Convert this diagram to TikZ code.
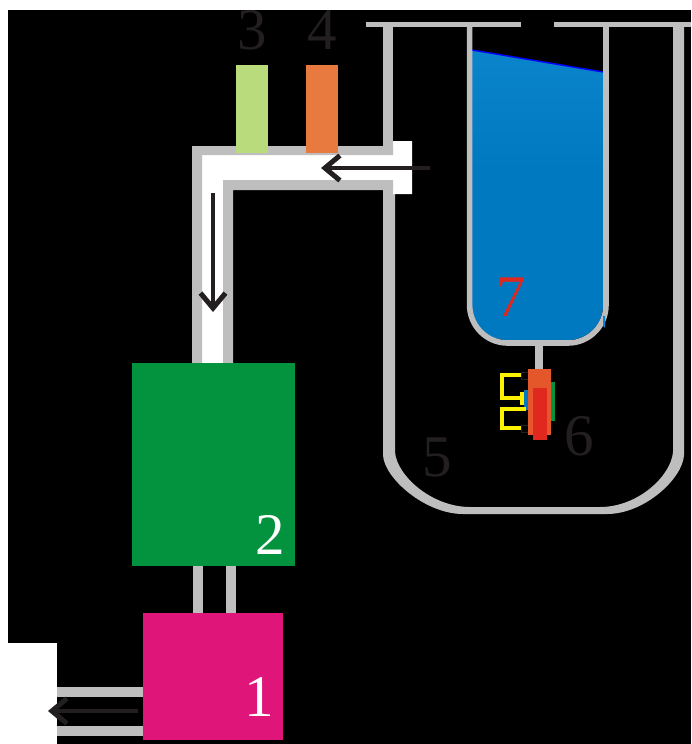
\documentclass[tikz,border=0pt]{standalone}
\usepackage{fontspec}
\setmainfont{Liberation Serif}
\usetikzlibrary{arrows.meta}
\definecolor{wall}{HTML}{BEBEBE}
\definecolor{ink}{HTML}{231F20}
\definecolor{pgreen}{HTML}{03933F}
\definecolor{ppink}{HTML}{E0157A}
\definecolor{plime}{HTML}{B9DB7B}
\definecolor{porange}{HTML}{E87A40}
\definecolor{pred}{HTML}{E4572A}
\definecolor{pdeep}{HTML}{E0281E}
\definecolor{wtop}{HTML}{0A84CA}
\definecolor{wbot}{HTML}{0079C1}
\definecolor{pyellow}{HTML}{FFF200}
\tikzset{
  box/.style={draw=none,inner sep=0pt,outer sep=0pt},
  digit/.style={inner sep=0pt,font=\fontsize{59}{59}\selectfont},
  tube/.style={draw=wall,line join=round},
  flow/.style={draw=ink,line width=4.4pt,-{Straight Barb[length=15pt,width=25pt,line width=5pt]}},
  bracket/.style={draw=pyellow,line width=3.5pt,line join=miter}
}
\begin{document}
\begin{tikzpicture}[x=1pt,y=-1pt]
\useasboundingbox (0,0) rectangle (691,744);
\fill[black] (0,0) rectangle (691,744);
\fill[white] (0,0) rectangle (691,10);
\fill[white] (0,0) rectangle (8,744);
\fill[white] (0,643) rectangle (57,744);
% outer vessel
\draw[tube,line width=4.8pt] (366,24.5) -- (521,24.5);
\draw[tube,line width=4.8pt] (554,24.5) -- (691,24.5);
\fill[wall] (383,25) rectangle (393,150);
\fill[wall] (383,190) -- (383,455) .. controls (384,478) and (425,514) .. (463,514) -- (607,514)
  .. controls (645,514) and (683,478) .. (684,455) -- (684,25) -- (673,25) -- (673,452)
  .. controls (671,476) and (638,507) .. (600,507) -- (470,507)
  .. controls (432,507) and (397,476) .. (395,452) -- (395,190) -- cycle;
% inner tube
\fill[wbot] (472,50) -- (603,72) -- (603,305) arc[start angle=0,end angle=90,x radius=35,y radius=35] -- (507,340) arc[start angle=90,end angle=180,x radius=35,y radius=35] -- cycle;
\shade[top color=wtop,bottom color=wbot] (472,50) -- (603,72) -- (603,170) -- (472,170) -- cycle;
\draw[blue,line width=1.4pt] (472,50) -- (603,72);
\draw[tube,line width=5.6pt] (469.6,25) -- (469.6,305) arc[start angle=180,end angle=90,x radius=38,y radius=38] -- (568,343) arc[start angle=90,end angle=0,x radius=38,y radius=38] -- (606,25);
\fill[wtop] (603,316) -- (605,316) -- (605,328) -- (603,326) -- cycle;
% pipe
\fill[white] (202,155) -- (393,155) -- (393,141) -- (412,141) -- (412,194) -- (393,194) -- (393,180) -- (223,180) -- (223,363) -- (202,363) -- cycle;
\fill[wall] (192,363) -- (192,146) -- (393,146) -- (393,155) -- (202,155) -- (202,363) -- cycle;
\fill[wall] (223,363) -- (223,180) -- (393,180) -- (393,190) -- (233,190) -- (233,363) -- cycle;
% stubs
\fill[wall] (193,566) rectangle (203,613);
\fill[wall] (226,566) rectangle (236,613);
\fill[wall] (57,687) rectangle (143,697);
\fill[wall] (57,726) rectangle (143,736);
\fill[wall] (535,342) rectangle (543,370);
% boxes
\node[box,fill=plime,minimum width=32pt,minimum height=88pt] (n3) at (252,109) {};
\node[box,fill=porange,minimum width=32pt,minimum height=88pt] (n4) at (322,109) {};
\node[box,fill=pgreen,minimum width=163pt,minimum height=203pt] (n2) at (213.5,464.5) {};
\node[box,fill=ppink,minimum width=140pt,minimum height=127pt] (n1) at (213,676.5) {};
% sensor
\draw[ink,line width=1pt] (528,372) -- (521,372) -- (521,379) -- (528,379);
\draw[ink,line width=1pt] (528,425) -- (521,425) -- (521,432) -- (528,432);
\fill[pgreen] (551,382) rectangle (555,421);
\node[box,fill=pred,minimum width=23pt,minimum height=66pt] (s1) at (539.5,402) {};
\node[box,fill=pdeep,minimum width=14pt,minimum height=52pt] (s2) at (540,414) {};
\fill[wbot] (524,390) rectangle (528,410);
\fill[pyellow] (520,392) rectangle (524,405);
\draw[bracket] (521,375) -- (502,375) -- (502,398) -- (521,398);
\draw[bracket] (526,409) -- (502,409) -- (502,428) -- (521,428);
% arrows
\coordinate (a1s) at (430,168);
\coordinate (a1e) at (321,168);
\coordinate (a2s) at (213,193);
\coordinate (a2e) at (213,312);
\coordinate (a3s) at (138,711);
\coordinate (a3e) at (48,711);
\draw[flow] (a1s) -- (a1e);
\draw[flow] (a2s) -- (a2e);
\draw[flow] (a3s) -- (a3e);
% labels
\node[digit,text=white] (l1) at (259.5,697) {1};
\node[digit,text=white] (l2) at (270.5,535) {2};
\node[digit,text=ink] (l3) at (252.5,30) {3};
\node[digit,text=ink] (l4) at (322.5,30) {4};
\node[digit,text=ink] (l5) at (437.5,457.5) {5};
\node[digit,text=ink] (l6) at (579.5,436.5) {6};
\node[digit,text=pdeep] (l7) at (511,297) {7};
\end{tikzpicture}
\end{document}
